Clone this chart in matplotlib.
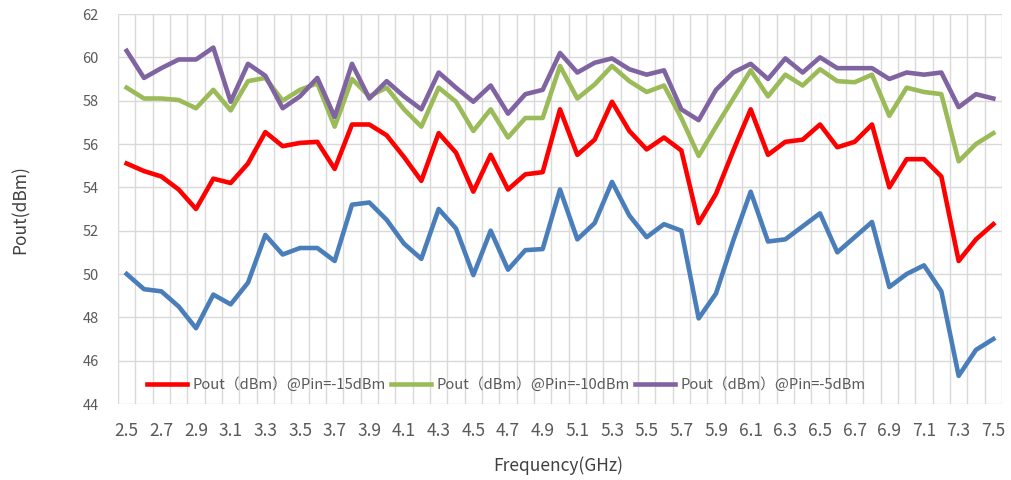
import matplotlib
matplotlib.use("Agg")
import matplotlib.pyplot as plt
from matplotlib.ticker import FixedLocator

plt.rcParams['font.family'] = ['Noto Sans CJK SC', 'DejaVu Sans']

categories = ["2.5", "2.6", "2.7", "2.8", "2.9", "3.0", "3.1", "3.2", "3.3", "3.4",
              "3.5", "3.6", "3.7", "3.8", "3.9", "4.0", "4.1", "4.2", "4.3", "4.4",
              "4.5", "4.6", "4.7", "4.8", "4.9", "5.0", "5.1", "5.2", "5.3", "5.4",
              "5.5", "5.6", "5.7", "5.8", "5.9", "6.0", "6.1", "6.2", "6.3", "6.4",
              "6.5", "6.6", "6.7", "6.8", "6.9", "7.0", "7.1", "7.2", "7.3", "7.4", "7.5"]

pout_blue = [50.0, 49.3, 49.2, 48.5, 47.5, 49.05, 48.6, 49.6, 51.8, 50.9,
             51.2, 51.2, 50.6, 53.2, 53.3, 52.5, 51.4, 50.7, 53.0, 52.1,
             49.95, 52.0, 50.2, 51.1, 51.15, 53.9, 51.6, 52.35, 54.25, 52.7,
             51.7, 52.3, 52.0, 47.95, 49.1, 51.55, 53.8, 51.5, 51.6, 52.2,
             52.8, 51.0, 51.7, 52.4, 49.4, 50.0, 50.4, 49.2, 45.3, 46.5, 47.0]

pout_m15 = [55.1, 54.75, 54.5, 53.9, 53.0, 54.4, 54.2, 55.1, 56.55, 55.9,
            56.05, 56.1, 54.85, 56.9, 56.9, 56.4, 55.4, 54.3, 56.5, 55.6,
            53.8, 55.5, 53.9, 54.6, 54.7, 57.6, 55.5, 56.2, 57.95, 56.6,
            55.75, 56.3, 55.7, 52.35, 53.7, 55.7, 57.6, 55.5, 56.1, 56.2,
            56.9, 55.85, 56.1, 56.9, 54.0, 55.3, 55.3, 54.5, 50.6, 51.6, 52.3]

pout_m10 = [58.6, 58.1, 58.1, 58.03, 57.65, 58.5, 57.55, 58.9, 59.05, 58.0,
            58.5, 58.8, 56.8, 59.0, 58.2, 58.6, 57.6, 56.8, 58.6, 57.95,
            56.6, 57.6, 56.3, 57.2, 57.2, 59.6, 58.1, 58.75, 59.6, 58.9,
            58.4, 58.7, 57.2, 55.45, 56.8, 58.1, 59.4, 58.2, 59.2, 58.7,
            59.45, 58.9, 58.85, 59.2, 57.3, 58.6, 58.4, 58.3, 55.2, 56.0, 56.5]

pout_m5 = [60.3, 59.05, 59.5, 59.9, 59.9, 60.45, 57.95, 59.7, 59.15, 57.65,
           58.2, 59.05, 57.25, 59.7, 58.1, 58.9, 58.2, 57.6, 59.3, 58.6,
           57.95, 58.7, 57.4, 58.3, 58.5, 60.2, 59.3, 59.75, 59.95, 59.45,
           59.2, 59.4, 57.6, 57.1, 58.5, 59.3, 59.7, 59.0, 59.95, 59.3,
           60.0, 59.5, 59.5, 59.5, 59.0, 59.3, 59.2, 59.3, 57.7, 58.3, 58.1]

legend_labels = ["Pout（dBm）@Pin=-15dBm", "Pout（dBm）@Pin=-10dBm", "Pout（dBm）@Pin=-5dBm"]
y_ticks = [44, 46, 48, 50, 52, 54, 56, 58, 60, 62]

fig = plt.figure(figsize=(10.11, 4.8), dpi=100)
ax = fig.add_axes([118/1011, 1-404/480, (1002-118)/1011, (404-14)/480])

x = list(range(len(categories)))
ax.plot(x, pout_blue, color='#4A7EBB', lw=3.3, label='_nolegend_', solid_joinstyle='round', zorder=3)
ax.plot(x, pout_m15, color='#FF0000', lw=3.3, label=legend_labels[0], solid_joinstyle='round', zorder=3)
ax.plot(x, pout_m10, color='#9BBB59', lw=3.3, label=legend_labels[1], solid_joinstyle='round', zorder=3)
ax.plot(x, pout_m5, color='#8064A2', lw=3.3, label=legend_labels[2], solid_joinstyle='round', zorder=3)

ax.set_xlim(-0.5, len(categories) - 0.5)
ax.set_ylim(44, 62)
ax.set_yticks(y_ticks)
ax.set_xticks(x[::2])
ax.set_xticklabels(categories[::2])
ax.xaxis.set_minor_locator(FixedLocator([i - 0.5 for i in range(len(categories) + 1)]))
ax.grid(False)
ax.grid(True, which='minor', axis='x', color='#D9D9D9', lw=1.0, zorder=0)
ax.grid(True, which='major', axis='y', color='#D9D9D9', lw=1.0, zorder=0)
ax.tick_params(axis='both', which='both', length=0)
ax.tick_params(axis='x', pad=13, labelsize=12.5, labelcolor='#595959')
ax.tick_params(axis='y', pad=14, labelsize=10.5, labelcolor='#595959')
for s in ax.spines.values():
    s.set_visible(False)

leg = ax.legend(loc='center left', bbox_to_anchor=(0.033, 0.05), ncol=3, frameon=False,
                fontsize=10.6, handlelength=2.7, handletextpad=0.4, columnspacing=0.35,
                borderaxespad=0, borderpad=0)
for t in leg.get_texts():
    t.set_color('#595959')

fig.text(21/1011, 1-210/480, "Pout(dBm)", rotation=90, ha='center', va='center',
         fontsize=12.5, color='#404040')
fig.text(558/1011, 1-466/480, "Frequency(GHz)", ha='center', va='center',
         fontsize=12.5, color='#404040')

fig.savefig("out.png", dpi=100)
